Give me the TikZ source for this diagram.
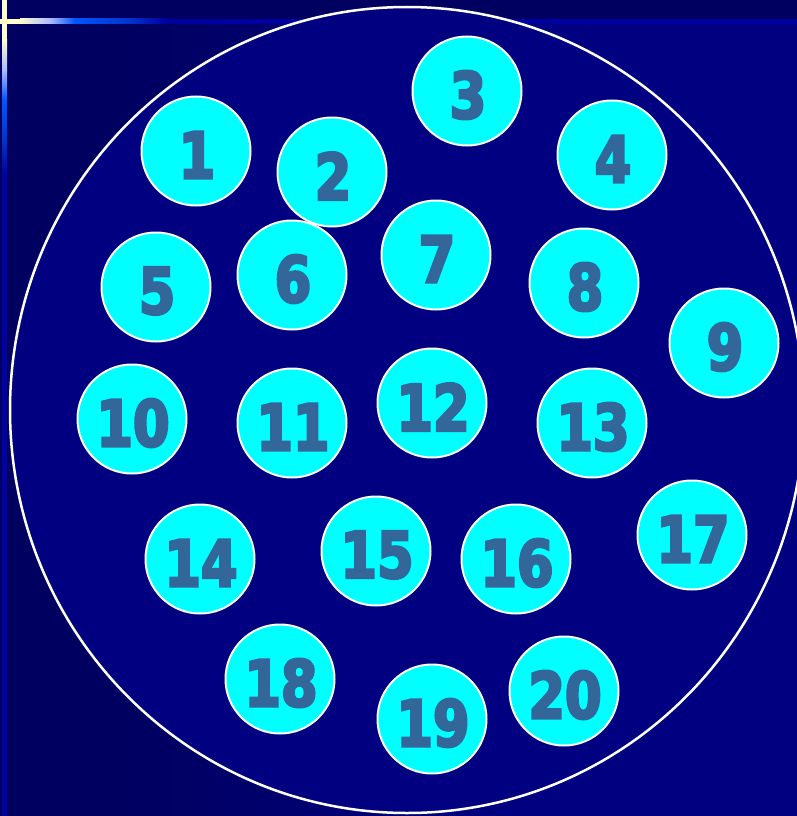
\documentclass[tikz,border=0pt]{standalone}
\usepackage{fontspec}
\newfontfamily\numfont{DejaVu Sans}[FakeStretch=0.82, FakeBold=4, BoldFont={DejaVu Sans Bold}, BoldFeatures={FakeStretch=0.82, FakeBold=4}]
\definecolor{bgdark}{HTML}{000060}
\definecolor{bgmain}{HTML}{000080}
\definecolor{stripe}{HTML}{0000A0}
\definecolor{pale}{HTML}{FFFFCC}
\definecolor{lblue}{HTML}{AABBFF}
\definecolor{bright}{HTML}{0055FF}
\definecolor{midb}{HTML}{0033CC}
\definecolor{ballfill}{HTML}{00FFFF}
\definecolor{numcol}{HTML}{336699}
\tikzset{
  ball/.style={circle, draw=white, line width=2pt, fill=ballfill, minimum size=109pt, inner sep=0pt},
  numtxt/.style={text=numcol, font=\numfont\bfseries\fontsize{64}{64}\selectfont, inner sep=0pt},
}
\begin{document}
\begin{tikzpicture}[x=1pt,y=-1pt]
\useasboundingbox (0,0) rectangle (797,816);
% background
\fill[bgdark] (0,0) rectangle (797,816);
\fill[bgmain] (500,23) rectangle (797,816);
\shade[left color=bgdark, right color=bgmain, draw=none] (120,23) rectangle (500,816);
% horizontal decorative line
\fill[pale] (0,19) rectangle (20,24);
\shade[left color=pale, right color=lblue] (20,19) rectangle (50,24);
\shade[left color=lblue, right color=bright] (50,19) rectangle (75,24);
\shade[left color=bright, right color=midb] (75,19) rectangle (130,24);
\shade[left color=midb, right color=stripe] (130,19) rectangle (165,24);
\fill[stripe] (165,19) rectangle (797,24);
% vertical decorative line
\fill[pale] (2,0) rectangle (7,40);
\shade[top color=pale, bottom color=lblue] (2,40) rectangle (7,70);
\shade[top color=lblue, bottom color=bright] (2,70) rectangle (7,100);
\shade[top color=bright, bottom color=midb] (2,100) rectangle (7,140);
\shade[top color=midb, bottom color=stripe] (2,140) rectangle (7,175);
\fill[stripe] (2,175) rectangle (7,816);
% big circle
\draw[white, line width=2.5pt, fill=bgmain] (407,410) ellipse [x radius=397, y radius=403];
% balls
\foreach \n/\x/\y in {1/196/151, 2/332/172, 3/467/91, 4/612/155, 5/156/287,
  6/292/275, 7/436/255, 8/584/283, 9/724/343, 10/132/419, 11/292/423,
  12/432/403, 13/592/423, 14/200/559, 15/376/551, 16/516/559, 17/692/535,
  18/280/679, 19/432/719, 20/564/691}{
  \node[ball] (c\n) at (\x,\y) {};
  \node[numtxt] (t\n) at ([xshift=1pt,yshift=-4pt]c\n.center) {\n};
}
\end{tikzpicture}
\end{document}
